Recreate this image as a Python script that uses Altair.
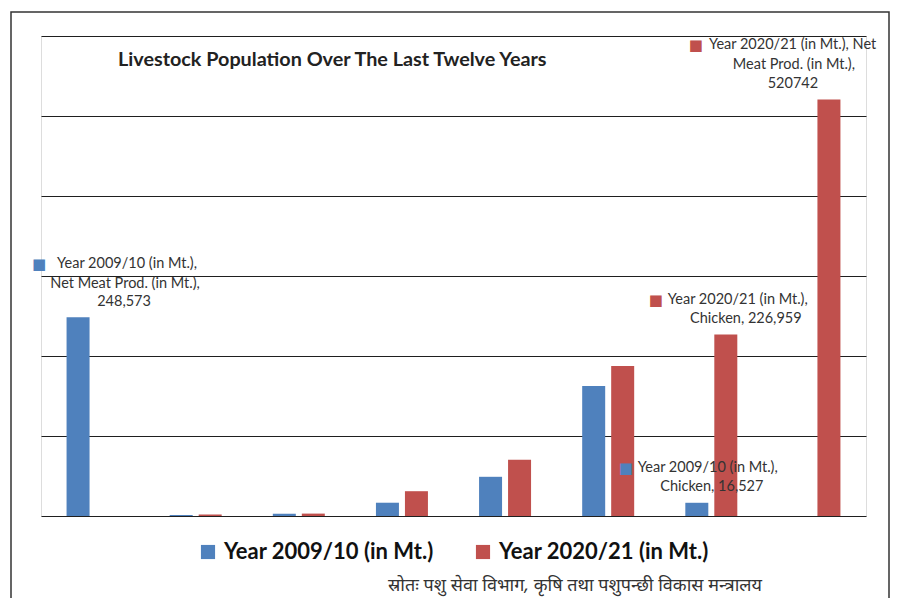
import altair as alt
import pandas as pd

# ---- data ----
categories = ["Net Meat Prod. (in Mt.)", "Duck", "Sheep", "Pig", "Goat", "Buffalo", "Chicken", "Net Meat Prod. (in Mt.)"]
series_names = ["Year 2009/10 (in Mt.)", "Year 2020/21 (in Mt.)"]
values_2009 = [248573, 1200, 2700, 16600, 49000, 162500, 16527, 0]
values_2020 = [0, 1800, 3000, 31000, 70400, 187500, 226959, 520742]
grid_values = [0, 100000, 200000, 300000, 400000, 500000, 600000]
colors = ["#4F81BD", "#C0504D"]

title_text = "Livestock Population Over The Last Twelve Years"
source_text = "स्रोतः पशु सेवा विभाग, कृषि तथा पशुपन्छी विकास मन्त्रालय"

# data labels: (slot, series index, lines, style offsets)
label_slots = [0, 7, 6, 6]
label_series = [0, 1, 1, 0]
label_lines = [
    ["Year 2009/10 (in Mt.),", "Net Meat Prod. (in Mt.),", "248,573"],
    ["Year 2020/21 (in Mt.), Net", "Meat Prod. (in Mt.),", "520742"],
    ["Year 2020/21 (in Mt.),", "Chicken, 226,959"],
    ["Year 2009/10 (in Mt.),", "Chicken, 16,527"],
]
# (square dx, dy), (line1 left dx), then centre dx / dy of following lines
label_layout = [
    {"sq": (-39, -53), "l1": (-21, -53), "rest": [(47, -33), (46, -15)]},
    {"sq": (-133, -54), "l1": (-120, -54), "rest": [(-35, -34), (-36, -15)]},
    {"sq": (-70, -34), "l1": (-58, -34), "rest": [(20, -15)]},
    {"sq": (-71, -35), "l1": (-59, -35), "rest": [(15, -16)]},
]

rows = []
for i, cat in enumerate(categories):
    rows.append({"slot": i, "category": cat, "series": series_names[0], "value": values_2009[i]})
    rows.append({"slot": i, "category": cat, "series": series_names[1], "value": values_2020[i]})
df = pd.DataFrame(rows)

FONT = "Lato"
x_enc = alt.X("slot:O", scale=alt.Scale(paddingInner=0.4958, paddingOuter=0.2479), axis=None)
xoff_enc = alt.XOffset("series:N", scale=alt.Scale(domain=series_names, paddingInner=0.2069, paddingOuter=0))
y_enc = alt.Y(
    "value:Q",
    scale=alt.Scale(domain=[0, 600000], nice=False),
    axis=alt.Axis(values=grid_values, grid=True, labels=False, ticks=False, domain=False,
                  title=None, gridColor="#1f1f1f", gridWidth=1, gridOpacity=1),
)

bars = alt.Chart(df).mark_bar().encode(
    x=x_enc,
    xOffset=xoff_enc,
    y=y_enc,
    color=alt.Color(
        "series:N",
        scale=alt.Scale(domain=series_names, range=colors),
        legend=alt.Legend(
            orient="none", legendX=156, legendY=505, direction="horizontal", title=None,
            symbolType="square", symbolSize=200, symbolStrokeWidth=0, labelFont=FONT,
            labelFontSize=22, labelFontWeight="bold", labelColor="#111111",
            columnPadding=38, labelOffset=5, labelLimit=400,
        ),
    ),
)

layers = [bars]

for k in range(len(label_slots)):
    s = label_slots[k]
    si = label_series[k]
    val = values_2009[s] if si == 0 else values_2020[s]
    row = pd.DataFrame([{"slot": s, "series": series_names[si], "value": val}])
    lay = label_layout[k]
    base = alt.Chart(row)
    enc = dict(x=alt.X("slot:O"), xOffset=alt.XOffset("series:N"), y=alt.Y("value:Q"))
    layers.append(
        base.mark_text(text="■", font="DejaVu Sans", fontSize=15, align="center", baseline="middle",
                       color=colors[si], dx=lay["sq"][0], dy=lay["sq"][1]).encode(**enc)
    )
    layers.append(
        base.mark_text(text=label_lines[k][0], font=FONT, fontSize=14.5, align="left", baseline="middle",
                       color="#333333", dx=lay["l1"][0], dy=lay["l1"][1]).encode(**enc)
    )
    for (ddx, ddy), line in zip(lay["rest"], label_lines[k][1:]):
        layers.append(
            base.mark_text(text=line, font=FONT, fontSize=14.5, align="center", baseline="middle",
                           color="#333333", dx=ddx, dy=ddy).encode(**enc)
        )

title = alt.Chart(pd.DataFrame({"t": [title_text]})).mark_text(
    font=FONT, fontSize=19.8, fontWeight="bold", align="left", baseline="middle", color="#222222"
).encode(x=alt.value(77), y=alt.value(24), text="t:N")

source = alt.Chart(pd.DataFrame({"t": [source_text]})).mark_text(
    font="Noto Sans", fontSize=18, fontStyle="italic", align="center", baseline="middle", color="#333333"
).encode(x=alt.value(534), y=alt.value(550), text="t:N")

frame = alt.Chart(pd.DataFrame({"a": [0]})).mark_rect(
    fill=None, stroke="#333333", strokeWidth=1.5, fillOpacity=0
).encode(x=alt.value(-30), x2=alt.value(848), y=alt.value(-24), y2=alt.value(575))

chart = alt.layer(frame, *layers, title, source).properties(
    width=825, height=480,
    autosize=alt.AutoSizeParams(type="none"),
    padding={"left": 33, "top": 28, "right": 25, "bottom": 82},
).configure_view(stroke=None).configure(background="white")

chart.save("out.html", embed_options={"renderer": "svg", "actions": False})
